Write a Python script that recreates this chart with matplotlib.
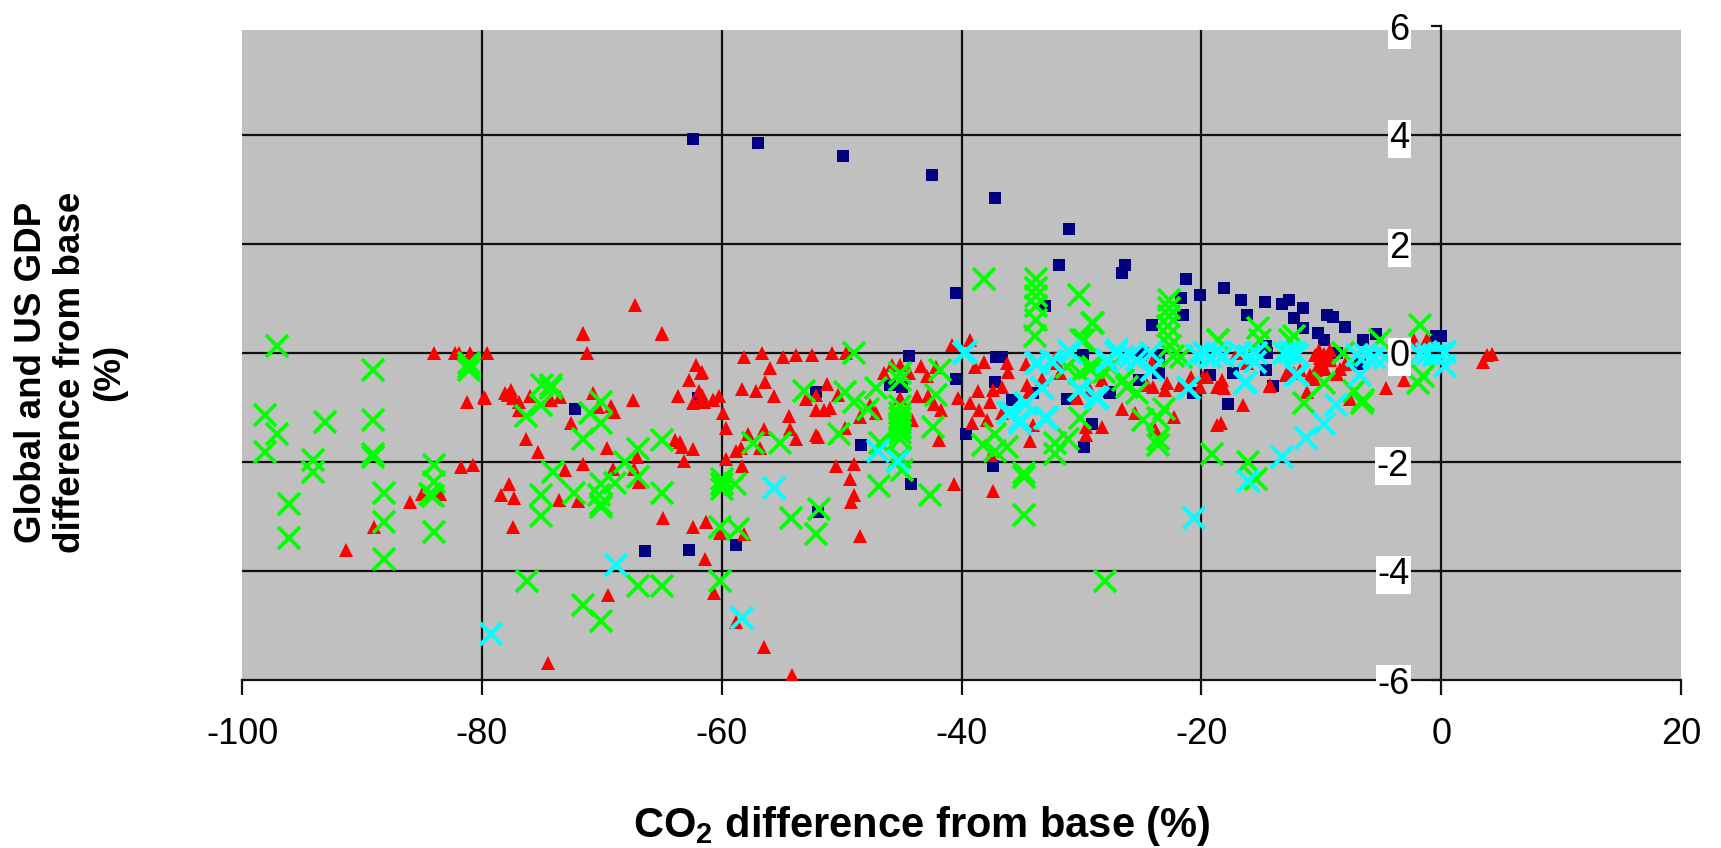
import matplotlib
matplotlib.use('Agg')
import matplotlib.pyplot as plt

plt.rcParams['font.family'] = ['Liberation Sans', 'DejaVu Sans']
plt.rcParams['mathtext.fontset'] = 'custom'
plt.rcParams['mathtext.bf'] = 'Liberation Sans:bold'
plt.rcParams['mathtext.rm'] = 'Liberation Sans'
plt.rcParams['axes.unicode_minus'] = False

# values: CO2 difference (x), GDP difference (y)
navy_x = [-62.4, -57, -49.9, -42.5, -37.2, -31, -31.9, -33, -40.5, -26.4, -26.6, -21.3, -21.7, -21.5, -24.1,
          -20.1, -18.1, -16.7, -16.2, -14.7, -13.3, -12.7, -11.5, -12.3, -11.5, -10.3, -9.8, -9.5, -9, -8,
          -6.5, -5.4, -0.4, 0, -27.7, -29.1, -17.8, -14, -20.7, -25, -23.6, -23.6, -25.2, -14.6, -14.6, -17.4,
          -19.3, -8.7, -6.8, -35.8, -34, -36.6, -29.9, -31.2, -29.1, -29.8, -27.6, -24.9, -23.5, -23.5, -20.6,
          -14.5, -44.4, -40.5, -37.1, -37.2, -46, -45, -52.1, -39.6, -48.4, -37.4, -44.2, -52, -58.8, -72.2,
          -66.4, -62.7, -62]
navy_y = [3.93, 3.85, 3.61, 3.27, 2.84, 2.28, 1.61, 0.87, 1.1, 1.61, 1.47, 1.36, 1.01, 0.69, 0.52,
          1.06, 1.19, 0.98, 0.69, 0.94, 0.9, 0.98, 0.83, 0.64, 0.46, 0.37, 0.24, 0.69, 0.66, 0.48,
          0.24, 0.34, 0.31, 0.31, -0.72, -1.3, -0.93, -0.6, -0.73, -0.03, -0.03, -0.37, -0.49, 0.12, -0.31, -0.37,
          -0.4, 0, -0.21, -0.87, -0.74, -0.07, -0.04, -0.85, -1.31, -1.72, -0.73, 0, -0.1, -0.37, -0.74,
          0, -0.06, -0.48, -0.07, -0.53, -0.59, -0.62, -0.71, -1.48, -1.68, -2.07, -2.4, -2.92, -3.52, -1.02,
          -3.64, -3.61, -0.83]

red_x = [-58.1, -56.6, -54.9, -53.8, -52.5, -50.8, -49.6, -56, -58.3, -56.4, -57.1, -55.6, -61.6, -61.6, -60.2,
         -60.7, -61.5, -59.9, -59.6, -54.4, -54.3, -53.8, -56.5, -57.8, -58.4, -58.8, -56.8, -59.6, -58.3, -52.1,
         -52, -49.7, -50.5, -49, -49.3, -49, -49.2, -48.5, -61.3, -60.1, -58.1, -61.4, -51.2, -53, -52.1,
         -50.3, -52.1, -51.5, -51, -48.5, -47.6, -47.1, -46.5, -45.8, -45.1, -44.4, -45.1, -43.7, -42.8, -43.4,
         -42.9, -42.1, -41.7, -42.3, -40.3, -44.1, -41.9, -40.6, -37.4, -39.3, -38.5, -38.6, -37.6, -37.4, -39.1,
         -38.1, -38.9, -40.8, -39.3, -37.5, -37.9,
         -79.6, -71.2, -71.6, -65, -62.1, -61.7, -62.7, -63.6, -61.9, -62.4, -61.7, -60.7, -79.7, -78.1, -77.6,
         -77.8, -77.4, -76.9, -76.9, -76, -74.2, -73.5, -70.7, -70.3, -69.2, -69, -67.4, -72.6, -76.3, -75.3,
         -69.6, -71.6, -73.1, -77.7, -78.4, -77.3, -73.6, -72, -69.1, -67.3, -67.1, -66.9, -77.4, -64.9, -63.9,
         -63.5, -63.3, -62.4, -63.1, -62.4, -61.3,
         -84, -82.2, -81.9, -81, -81.2, -79.8, -81.7, -80.7, -85, -83.5, -86, -89, -91.3, -74.5, -69.5,
         -67.2, -71.6, -65, -60.6, -58.8, -56.5, -54.1,
         -36.2, -36.1, -34.6, -36.6, -34.5, -34.4, -33.3, -32, -31.8, -30.4, -29.3, -28.3, -29.6, -29.6, -34.3,
         -34, -36.6, -28.3, -26.6, -25.5, -22.3, -23.9, -24.5, -24, -22.9, -23, -21.8, -20.9, -20.1, -19.9,
         -18.7, -18.3, -18.1, -16.5, -18.7, -18.4, -14.3, -12.9, -12.3, -24.1, -19.5, -16.2, -17, -32.2,
         3.8, 4.2, 3.5, -9.8, -10.1, -9.3, -9.7, -10.2, -8.4, -8, -8.7, -12.9, -10.9, -11.2, -7.6,
         -4.6, -3.1, -14.3, -2.3, -1.2, -10.4, -9.3, -10, -9.5, -10.5, -12.7, -10.6, -11.8]
red_y = [-0.08, 0, -0.08, -0.04, -0.04, 0, 0, -0.28, -0.66, -0.53, -0.7, -0.79, -0.34, -0.77, -0.79,
         -0.87, -0.9, -1.11, -1.37, -1.16, -1.39, -1.58, -1.39, -1.48, -1.75, -1.8, -1.75, -1.95, -2.07, -1.51,
         -1.54, -1.37, -2.07, -2.03, -2.32, -2.6, -2.74, -3.36, -3.11, -3.31, -3.32, -3.78, -0.57, -0.85, -0.77,
         -0.77, -1.04, -1.04, -1, -1.18, -0.96, -1.11, -0.36, -0.22, -0.22, -0.37, -0.83, -0.79, -0.79, -0.24,
         -0.42, -0.25, -1.05, -0.94, -0.83, -1.23, -1.6, -2.4, -2.53, -0.91, -1.05, -0.7, -0.9, -0.68, -1.28,
         -0.16, -0.25, 0.15, 0.24, -1.88, -1.23,
         0, 0, 0.35, 0.35, -0.22, -0.37, -0.5, -0.79, -0.7, -0.91, -0.9, -0.87, -0.83, -0.74, -0.68,
         -0.77, -0.83, -0.9, -1.05, -0.79, -0.87, -0.8, -0.74, -0.99, -0.98, -1.08, -0.87, -1.28, -1.57, -1.82,
         -1.74, -2.03, -2.15, -2.4, -2.61, -2.66, -2.69, -2.71, -2.12, -2.12, -1.91, -2.37, -3.2, -3.03, -1.6,
         -1.63, -1.72, -1.77, -1.99, -3.2, -3.1,
         0, 0, 0, 0, -0.9, -0.81, -2.1, -2.06, -2.58, -2.58, -2.74, -3.2, -3.62, -5.69, -4.44,
         0.88, 0.37, 0.37, -4.4, -4.93, -5.4, -5.9,
         -0.19, -0.34, -0.21, -0.62, -0.59, -0.71, -0.47, -0.19, -0.37, -0.83, -0.68, -1.36, -1.36, -1.51, -1.62,
         -1.33, -1.11, -0.5, -1.02, -1.11, -1.18, -1.39, -0.59, -0.62, -0.55, -0.68, -0.59, -0.44, -0.62, -0.44,
         -0.62, -0.5, -0.65, -0.96, -1.33, -1.29, -0.59, -0.4, -0.37, -0.16, -0.44, -0.19, 0, -0.1,
         -0.04, -0.01, -0.17, -0.01, -0.1, -0.13, -0.29, 0.05, -0.29, -0.2, -0.38, -0.41, -0.41, -0.72, -0.84,
         -0.64, -0.5, -0.61, 0.23, 0.26, -0.32, 0.05, -0.2, -0.07, -0.04, -0.32, -0.47, -0.32]

green_x = [-97.1, -89.1, -98.1, -97.1, -93.1, -89.1, -98.1, -94.1, -94.1, -89.1, -89.1, -96.1, -96.1, -88.2, -88.2,
           -88.2, -84, -84, -84.3, -84.1, -84, -81.1, -81.1, -81.1,
           -75, -74.2, -74.2, -75.1, -76.3, -71, -70.1, -70.1, -71.6, -65, -67, -68.1, -67, -74.1, -72.3,
           -75.1, -75.1, -68.9, -70.1, -70.2, -70.1, -70.1, -65, -60, -60, -60, -58.9, -60.1, -58.6,
           -76.2, -67, -65, -60.1, -71.6, -70.1,
           -57.4, -55.1, -53.1, -50.2, -49.7, -49, -49, -47.1, -47.8, -45.1, -45.1, -41.8, -42.1, -42.4,
           -45.1, -45.1, -45.1, -45.1, -45.1, -45.1, -45.1, -46.8, -45.1, -45, -46.9, -42.6, -54.2, -51.9, -52.1,
           -38.2, -37.2, -37.2,
           -38.1, -33.8, -33.8, -33.8, -33.8, -33.8, -33.9, -30.2, -29, -30,
           -22.7, -22.7, -22.7, -22.8, -22.8, -22.6, -22.4, -29.1, -18.6, -15.3, -12.3, -1.8, -5.1, -8.2, -9.8,
           -11.4, -7.3, -6.5, -6.6, -1.9, -1.5,
           -29.8, -29.4, -30.1, -29, -26.5, -26.2, -25.4, -21.7, -30.1, -36.2, -32.2, -32.2, -31.1, -24.9,
           -23.1, -23.6, -23.6, -23.6, -34.8, -34.8, -34.8, -19.1, -16.1, -15.4, -18.6, -15.1, -12.6, -31.2,
           -28.1, -27.5, -28]
green_y = [0.13, -0.32, -1.14, -1.49, -1.26, -1.23, -1.82, -1.97, -2.18, -1.85, -1.91, -2.77, -3.4, -2.57, -3.11,
           -3.78, -2.06, -2.37, -2.58, -2.62, -3.28, -0.18, -0.31, -0.25,
           -0.59, -0.65, -0.59, -0.96, -1.16, -1.11, -0.9, -1.29, -1.57, -1.6, -1.77, -2, -2.28, -2.18, -2.56,
           -2.61, -2.99, -2.38, -2.4, -2.61, -2.77, -2.83, -2.56, -2.4, -2.31, -2.49, -2.4, -3.2, -3.23,
           -4.18, -4.28, -4.28, -4.18, -4.62, -4.91,
           -1.66, -1.66, -0.7, -1.48, -0.71, 0, -0.9, -0.65, -1.02, -0.37, -0.5, -0.31, -0.77, -1.36,
           -0.98, -1.11, -1.2, -1.29, -1.38, -1.47, -1.57, -1.66, -1.91, -2.15, -2.44, -2.61, -3.03, -2.86, -3.32,
           -1.69, -1.48, -1.79,
           1.35, 1.35, 1.19, 1.04, 0.86, 0.61, 0.31, 1.06, 0.55, 0.24,
           0.98, 0.83, 0.67, 0.49, 0.31, 0.12, -0.06, 0.55, 0.24, 0.46, 0.31, 0.52, 0.24, 0, -0.55,
           -0.92, -0.7, -0.86, -0.92, -0.55, -0.43,
           0.24, -0.28, -0.37, -0.25, -0.5, -0.62, -0.74, -0.07, -1.2, -1.72, -1.66, -1.85, -1.57, -1.23,
           -1.02, -1.2, -1.57, -1.69, -2.21, -2.28, -2.98, -1.86, -2, -2.31, 0.24, 0.24, 0.24, -0.25,
           -0.34, -0.25, -4.19]

cyan_x = [-79.2, -68.8, -58.3, -55.6, -47, -45.3, -39.8, -39.6, -20.6, -16.1, -13.3, -21, -28.7, -30.1, -33.3,
          -34.6, -35.9, -35.1, -33, -33.6, -32.4, -30.9, -27.9, -27.1, -26.5, -25.4, -24.2, -24.1, -20.4, -19.8,
          -19.3, -18.7, -16.8, -16.3, -15.4, -13.1, -12.6, -12.2, -12, -11.9, -6.8, -8.8, -9.8, -11.3, -7,
          -6.3, -5.6, -4.7, -1.75, -1.2, -0.6, -0.1, 0.3, 0.3, -15.5, -27.9, -27, -25.9, -24.1, -21.1,
          -28.6, -19.7, -18.2, -16.4, -16, -12.1, -33.8, -32.5, -31, -30.2, -28.9, -33.3, -34.6, -36.1, -35.1, -32.9]
cyan_y = [-5.15, -3.89, -4.86, -2.47, -1.79, -1.98, 0, 0.02, -3.02, -2.35, -1.9, -0.65, -0.83, -0.68, -0.65,
          -0.93, -1.08, -1.23, -1.2, -0.19, -0.16, 0, -0.16, 0, -0.07, -0.13, 0, -0.31, -0.04, 0,
          -0.07, 0, 0, -0.53, 0, 0, 0.02, 0, -0.04, -0.41, -0.41, -0.96, -1.3, -1.56, -0.04,
          -0.04, -0.07, -0.1, -0.01, -0.01, -0.04, -0.01, 0.02, -0.23, -0.17, -0.12, 0.06, -0.06, -0.31, -0.64,
          -0.83, 0, -0.06, -0.55, -0.06, -0.4, -0.18, -0.15, 0.03, -0.67, -0.8, -0.64, -0.92, -1.1, -1.28, -1.19]

x_ticks = [-100, -80, -60, -40, -20, 0, 20]
y_ticks = [-6, -4, -2, 0, 2, 4, 6]

fig = plt.figure(figsize=(17.21, 8.48), dpi=100)
ax = fig.add_axes([242 / 1721, 1 - 680 / 848, 1439 / 1721, 654 / 848])
ax.set_xlim(-100, 20)
ax.set_ylim(-6, 6)

# grey plot area starts a little under the top of the y axis
ax.axhspan(-6, 5.93, color='#c0c0c0', lw=0, zorder=0)
ax.hlines(y_ticks[1:-1], -100, 20, color='#111111', lw=1.6, zorder=1)
ax.vlines(x_ticks[1:-2], -6, 5.93, color='#111111', lw=1.6, zorder=1)

ax.plot(navy_x, navy_y, ls='none', marker='s', ms=8.5, color='#000080', mew=0, zorder=2)
ax.plot(red_x, red_y, ls='none', marker='^', ms=10.5, color='#ff0000', mew=0, zorder=2.1)
ax.plot(green_x, green_y, ls='none', marker='x', ms=16.5, color='#00ff00', mew=2.7, zorder=2.2)
ax.plot(cyan_x, cyan_y, ls='none', marker='x', ms=16.5, color='#00ffff', mew=2.9, zorder=2.3)

for s in ['top', 'right']:
    ax.spines[s].set_visible(False)
ax.spines['left'].set_position(('data', 0))
ax.spines['left'].set_linewidth(1.6)
ax.spines['left'].set_color('#111111')
ax.spines['left'].set_zorder(1)
ax.spines['bottom'].set_linewidth(1.6)
ax.spines['bottom'].set_color('#111111')
ax.spines['bottom'].set_zorder(1)

ax.set_xticks(x_ticks)
ax.set_yticks(y_ticks)
ax.tick_params(axis='x', length=11, width=1.6, labelsize=26, pad=16, color='#111111')
ax.tick_params(axis='y', length=7, width=1.6, labelsize=26, pad=16, color='#111111')
ax.set_axisbelow(False)
for lab in ax.get_yticklabels():
    lab.set_bbox(dict(facecolor='white', edgecolor='none', pad=1))

fig.text(922 / 1721, 1 - 826 / 848, r'CO$_{\mathbf{2}}$ difference from base (%)',
         fontsize=30, fontweight='bold', ha='center', va='center')
fig.text(71 / 1721, 1 - 372 / 848, 'Global and US GDP\ndifference from base\n(%)',
         fontsize=26.5, fontweight='bold', ha='center', va='center', rotation=90,
         multialignment='center', linespacing=1.15)

fig.savefig('out.png', dpi=100)
